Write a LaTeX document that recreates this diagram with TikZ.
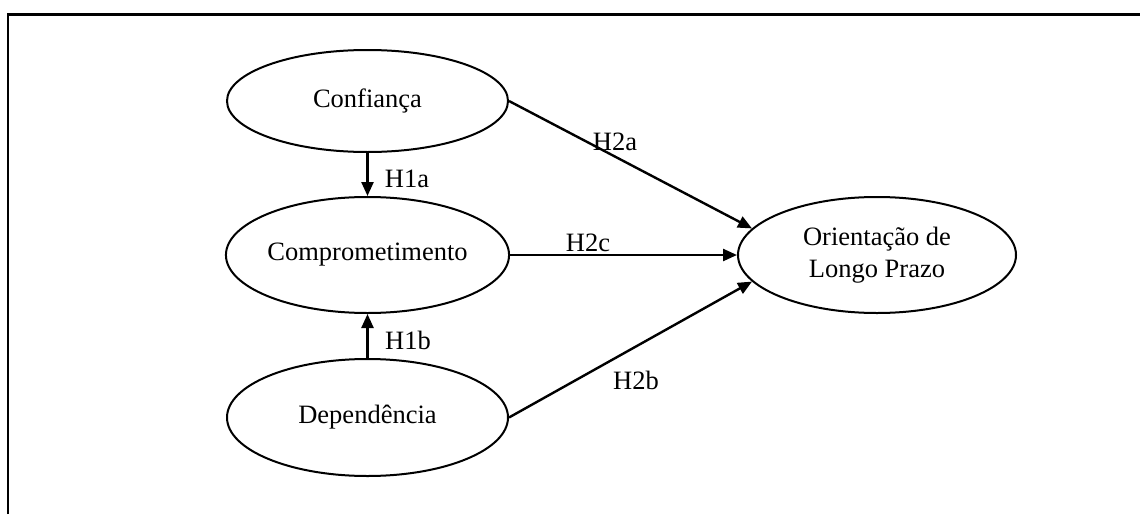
\documentclass[tikz,border=0pt]{standalone}
\usepackage{fontspec}
\setmainfont{Liberation Serif}
\usetikzlibrary{arrows.meta,shapes.geometric}
\begin{document}
\begin{tikzpicture}[x=1pt,y=-1pt,
  every node/.style={font=\fontsize{26.5}{32}\selectfont},
  oval/.style={draw,ellipse,line width=2pt,inner sep=0pt,minimum width=281pt,align=center},
  arr/.style={line width=2.4pt,-{Triangle[length=14pt,width=12pt]}},
  lbl/.style={inner sep=0pt}]
\useasboundingbox (0,0) rectangle (1140,514);
\draw[line width=2.5pt] (8.2,514) -- (8.2,14.3) -- (1140,14.3);
\node[oval,minimum height=102pt] (conf) at (367.5,101) {Confian\c{c}a};
\node[oval,minimum height=116pt] (comp) at (367.5,255) {Comprometimento};
\node[oval,minimum height=117pt] (dep) at (367.5,417.5) {Depend\^encia};
\node[oval,minimum height=116pt,minimum width=278pt] (ori) at (877,255) {Orienta\c{c}\~ao de\\Longo Prazo};
\draw[arr] (conf.south) -- (comp.north);
\draw[arr] (dep.north) -- (comp.south);
\draw[arr] (conf.east) -- (ori.168);
\draw[arr] (comp.east) -- (ori.west);
\draw[arr] (dep.east) -- (ori.192);
\node[lbl] (h1a) at (407,179) {H1a};
\node[lbl] (h1b) at (408,340) {H1b};
\node[lbl] (h2a) at (615,142) {H2a};
\node[lbl] (h2c) at (588,243) {H2c};
\node[lbl] (h2b) at (636,380) {H2b};
\end{tikzpicture}
\end{document}
